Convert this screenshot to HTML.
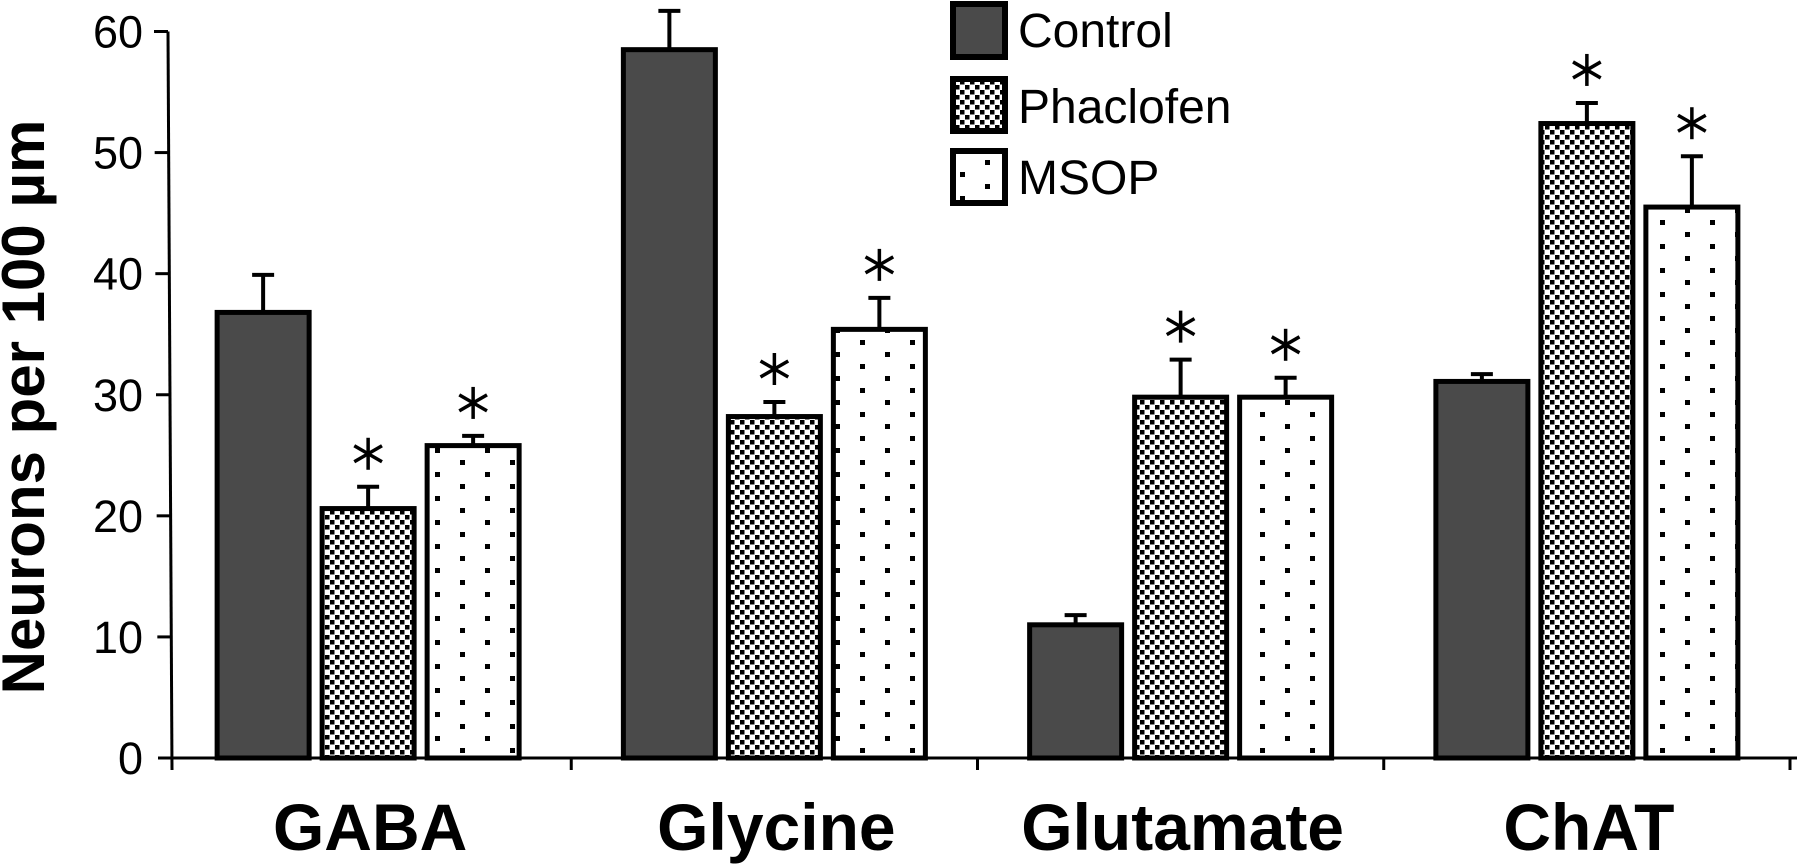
<!DOCTYPE html>
<html><head><meta charset="utf-8"><style>
html,body{margin:0;padding:0;background:#fff;}
svg{display:block;font-family:"Liberation Sans",sans-serif;}
</style></head><body>
<svg id="chart" width="1800" height="865" viewBox="0 0 1800 865">
<defs>
<pattern id="checker" width="10" height="10" patternUnits="userSpaceOnUse">
<rect width="10" height="10" fill="#fff"/>
<rect x="0" y="0" width="4.5" height="4.5" fill="#000"/>
<rect x="5" y="5" width="4.5" height="4.5" fill="#000"/>
</pattern>
<pattern id="dots" width="50" height="24" patternUnits="userSpaceOnUse" x="10" y="4">
<rect width="50" height="24" fill="#fff"/>
<rect x="0" y="0" width="5" height="5" fill="#000"/>
<rect x="25" y="12" width="5" height="5" fill="#000"/>
</pattern>
</defs>
<g id="axes"></g>
<g id="bars"></g>
<g id="legend">
<rect x="953" y="4" width="52" height="53" fill="#4a4a4a" stroke="#000" stroke-width="6"/>
<text x="1018" y="47" font-size="48">Control</text>
<rect x="953" y="79" width="52" height="52" fill="url(#checker)" stroke="#000" stroke-width="6"/>
<text x="1018" y="123" font-size="48">Phaclofen</text>
<rect x="953" y="151" width="52" height="52" fill="url(#dots)" stroke="#000" stroke-width="6"/>
<text x="1018" y="194" font-size="48">MSOP</text>
</g>
<text transform="translate(44,407) rotate(-90)" text-anchor="middle" font-size="60" font-weight="bold">Neurons per 100 µm</text>
</svg>
<script>
const categories = ["GABA", "Glycine", "Glutamate", "ChAT"];
const seriesNames = ["Control", "Phaclofen", "MSOP"];
const controlVals = [36.8, 58.5, 11.0, 31.1];
const controlErr = [3.1, 3.2, 0.8, 0.6];
const phaclofenVals = [20.6, 28.2, 29.8, 52.4];
const phaclofenErr = [1.8, 1.2, 3.1, 1.7];
const msopVals = [25.8, 35.4, 29.8, 45.5];
const msopErr = [0.8, 2.6, 1.6, 4.2];
const phaclofenSig = [true, true, true, true];
const msopSig = [true, true, true, true];
const yTicks = [0, 10, 20, 30, 40, 50, 60];

const NS = "http://www.w3.org/2000/svg";
const x0 = 172, x1 = 1797, y0 = 758, yMax = 60, yTop = 31.5;
function yScale(v){ return y0 - (y0 - yTop) * v / yMax; }
const band = (x1 - x0) / categories.length;
function xCenter(i){ return x0 + band * (i + 0.5) - 7; }
function mk(tag, attrs, parent){ const e = document.createElementNS(NS, tag); for (const k in attrs) e.setAttribute(k, attrs[k]); parent.appendChild(e); return e; }

const axes = document.getElementById('axes');
const bars = document.getElementById('bars');
let yAxis = mk('line', {x1:168, y1:yTop, x2:172, y2:y0+12, stroke:'#000', 'stroke-width':3}, axes);


let xAxis = mk('line', {x1:158, y1:y0, x2:x1, y2:y0, stroke:'#000', 'stroke-width':3}, axes);


yTicks.forEach(t => {
  const y = yScale(t);
  const xa = 168 + 4 * (y - yTop) / (y0 - yTop);
  const tk = mk('line', {x1:xa - 14, y1:y, x2:xa, y2:y, stroke:'#000', 'stroke-width':3}, axes);
  
  
  const lb = mk('text', {x:143, y:y + 16, 'text-anchor':'end', 'font-size':45}, axes);
  lb.textContent = t;
  
  
});
for (let i = 1; i <= categories.length; i++) {
  const x = x0 + band * i - 7;
  const tk = mk('line', {x1:x, y1:y0, x2:x, y2:y0 + 12, stroke:'#000', 'stroke-width':3}, axes);
  
  
}
categories.forEach((c, i) => {
  const lb = mk('text', {x:xCenter(i) + 2, y:850, 'text-anchor':'middle', 'font-size':66, 'font-weight':'bold'}, axes);
  lb.textContent = c;
  
  
});

const series = [
  {vals:controlVals, err:controlErr, fill:'#4a4a4a', sig:null, key:'control'},
  {vals:phaclofenVals, err:phaclofenErr, fill:'url(#checker)', sig:phaclofenSig, key:'phaclofen'},
  {vals:msopVals, err:msopErr, fill:'url(#dots)', sig:msopSig, key:'msop'}
];
const bw = 92, step = 105;
categories.forEach((c, i) => {
  series.forEach((s, j) => {
    const cx = xCenter(i) + (j - 1) * step;
    const top = yScale(s.vals[i]);
    const et = yScale(s.vals[i] + s.err[i]);
    const eb = mk('line', {x1:cx, y1:top, x2:cx, y2:et, stroke:'#000', 'stroke-width':4}, bars);
    
    
    const cap = mk('line', {x1:cx - 11, y1:et, x2:cx + 11, y2:et, stroke:'#000', 'stroke-width':4}, bars);
    
    
    const r = mk('rect', {x:cx - bw / 2, y:top, width:bw, height:y0 - top, fill:s.fill, stroke:'#000', 'stroke-width':5}, bars);
    
    
    if (s.sig && s.sig[i]) {
      const ay = et - 33, R = 16;
      const g = mk('g', {stroke:'#000', 'stroke-width':3.5}, bars);
      
      
      for (let k = 0; k < 3; k++) {
        const a = Math.PI / 2 + k * Math.PI / 3;
        mk('line', {x1:cx + R * Math.cos(a), y1:ay + R * Math.sin(a), x2:cx - R * Math.cos(a), y2:ay - R * Math.sin(a)}, g);
      }
    }
  });
});
</script>
</body></html>
